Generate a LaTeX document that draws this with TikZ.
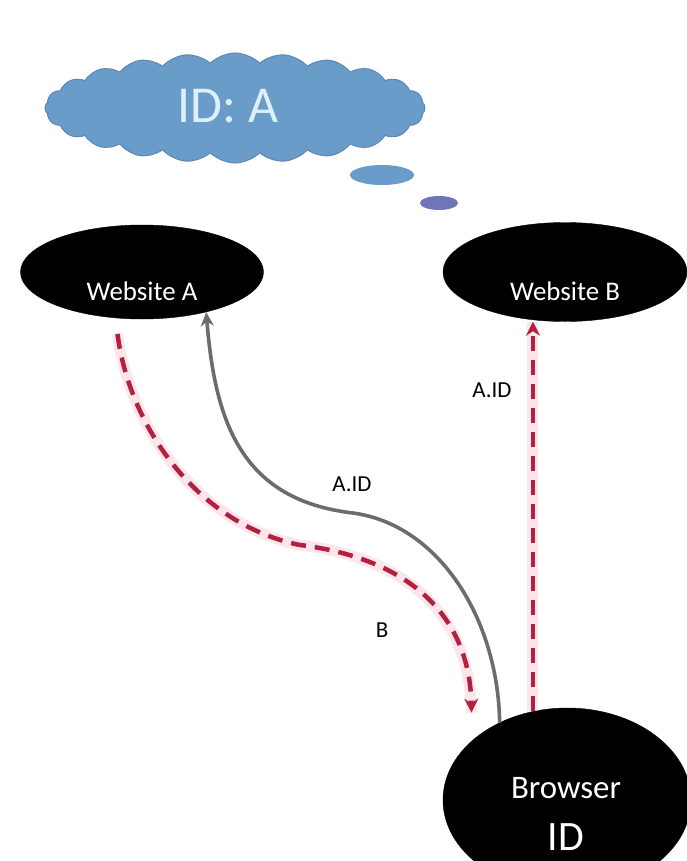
\documentclass[tikz,border=0pt]{standalone}
\usepackage{fontspec}
\setmainfont{Carlito}
\usetikzlibrary{shapes.geometric,shapes.symbols,arrows.meta}

\definecolor{cloudblue}{HTML}{6A9CC9}
\definecolor{cloudedge}{HTML}{5F88B4}
\definecolor{cloudtext}{HTML}{DCEFFA}
\definecolor{flowred}{HTML}{B0223E}
\definecolor{flowhalo}{HTML}{FBD3E0}
\definecolor{flowgray}{HTML}{6C6C6C}

\tikzset{
  site/.style={ellipse, fill=black, draw=black, text=white, inner sep=0pt},
  % the site names sit a little below the middle of their ellipses
  lowtext/.style={font=\fontsize{27}{30}\selectfont, text height=56bp, text depth=0bp},
  halo/.style={line width=11bp, color=flowhalo, opacity=0.6},
  redflow/.style={line width=4.5bp, color=flowred, dash pattern=on 15bp off 9bp,
    -{Stealth[length=14bp,width=14bp]}},
  grayflow/.style={line width=3.6bp, color=flowgray, -{Stealth[length=14bp,width=13bp]}},
  lbl/.style={font=\fontsize{23}{25}\selectfont, text=black, inner sep=1bp},
  bubble/.style={ellipse, fill=cloudblue, inner sep=0pt}
}

\begin{document}
\begin{tikzpicture}[x=1bp, y=-1bp]
\useasboundingbox (0,0) rectangle (687,861);

% thought cloud with its trailing bubbles
\node[cloud, cloud puffs=24, cloud puff arc=90, aspect=3.4, fill=cloudblue,
      draw=cloudedge, line width=1bp,
      minimum width=380bp, minimum height=110bp, inner sep=0pt] (cl) at (235,108) {};
\node[text=cloudtext, font=\fontsize{52}{56}\selectfont, inner sep=0pt] (cltext) at (228,106) {ID: A};
\node[bubble, minimum width=64bp, minimum height=20bp] (b1) at (382,175) {};
\node[bubble, minimum width=38bp, minimum height=14bp, fill=cloudblue!75!violet] (b2) at (439,203) {};

% the three parties
\node[site, lowtext, minimum width=243bp, minimum height=94bp] (wa) at (142,272) {Website A};
\node[site, lowtext, minimum width=244bp, minimum height=99bp] (wb) at (565,272) {Website B};
\node[site, minimum width=248bp, minimum height=184bp] (br) at (567,800) {};
\node[anchor=north, align=center, text=white, inner sep=0pt,
      font=\fontsize{33}{52}\selectfont] (brtext) at (566,777)
  {Browser\\{\fontsize{42}{52}\selectfont ID}};

% browser -> website A (solid)
\draw[grayflow] (br.131) .. controls (498,620) and (440,525) .. (353,513)
                .. controls (240,500) and (215,420) .. (wa.328);

% website A -> browser (dashed)
\draw[halo, shorten <=16bp, shorten >=28bp] (wa.240) .. controls (130,430) and (200,525) .. (300,545)
      .. controls (420,560) and (470,625) .. (br.148);
\draw[redflow, shorten <=16bp, shorten >=28bp] (wa.240) .. controls (130,430) and (200,525) .. (300,545)
      .. controls (420,560) and (470,625) .. (br.148);

% browser -> website B (dashed)
\coordinate (bt) at (br.111);
\draw[halo] (bt) -- (bt |- wb.south);
\draw[redflow] (bt) -- (bt |- wb.south);

% labels
\node[lbl] (l1) at (352,484) {A.ID};
\node[lbl] (l2) at (492,390) {A.ID};
\node[lbl] (l3) at (382,630) {B};
\end{tikzpicture}
\end{document}
